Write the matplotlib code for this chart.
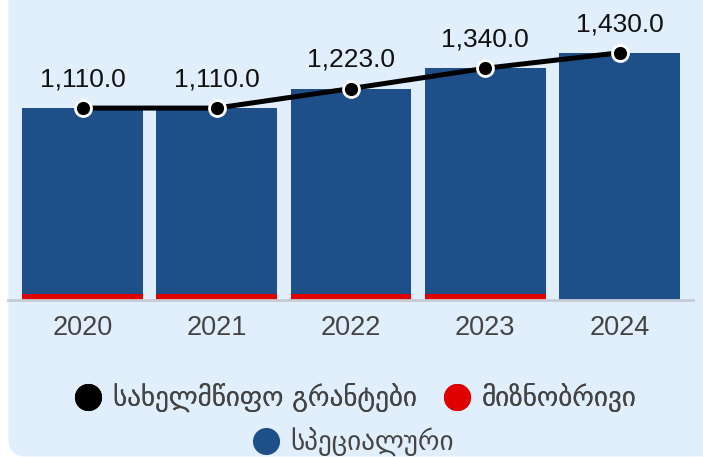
import matplotlib
matplotlib.use('Agg')
import matplotlib.pyplot as plt
from matplotlib.patches import FancyBboxPatch
from matplotlib.lines import Line2D

years = ['2020', '2021', '2022', '2023', '2024']
state_grants = [1110.0, 1110.0, 1223.0, 1340.0, 1430.0]
targeted = [35, 35, 35, 35, 0]
special = [1075, 1075, 1188, 1305, 1430]

labels = ['სახელმწიფო გრანტები', 'მიზნობრივი', 'სპეციალური']
black = '#000000'
red = '#e00000'
blue = '#1f4f89'
bg = '#e1effc'

W, H = 703, 457
fig = plt.figure(figsize=(W / 100, H / 100), dpi=100, facecolor='white')

# rounded card behind everything
bg_ax = fig.add_axes([0, 0, 1, 1], zorder=0)
bg_ax.set_xlim(0, W)
bg_ax.set_ylim(H, 0)
bg_ax.axis('off')
bg_ax.add_patch(FancyBboxPatch((8.5, -40), 740, 496.5,
                               boxstyle='round,pad=0,rounding_size=17',
                               facecolor=bg, edgecolor='none'))

ax = fig.add_axes([8 / W, (H - 300) / H, 685 / W, 300 / H], zorder=1)
ax.patch.set_visible(False)
x = list(range(len(years)))

ax.bar(x, targeted, width=0.9, color=red, zorder=2)
ax.bar(x, special, width=0.9, bottom=targeted, color=blue, zorder=2)
ax.plot(x, state_grants, color=black, lw=3.6, marker='o', ms=11.5,
        mfc=black, mec='white', mew=2, zorder=3, solid_capstyle='butt')

for xi, v in zip(x, state_grants):
    ax.annotate(f'{v:,.1f}', (xi, v), xytext=(0, 12), textcoords='offset points',
                ha='center', va='bottom', fontsize=19, family='Liberation Sans',
                color='#111111')

ax.set_xlim(-0.555, 4.547)
ax.set_ylim(0, 1735)
ax.set_xticks(x)
ax.set_xticklabels(years, fontsize=19.5, family='Liberation Sans', color='#444444')
ax.tick_params(axis='x', length=0, pad=11)
ax.set_yticks([])
for s in ['top', 'right', 'left']:
    ax.spines[s].set_visible(False)
ax.spines['bottom'].set_color('#c5cbd3')
ax.spines['bottom'].set_linewidth(2)

def handle(c):
    return Line2D([], [], marker='o', ls='none', ms=18.5, mfc=c, mec=c)

legend_font = {'family': ['DejaVu Sans'], 'size': 19.5}
leg1 = fig.legend([handle(black), handle(red)], labels[:2], ncol=2,
                  loc='center', bbox_to_anchor=(0.5 + 4 / W, 1 - 398 / H),
                  frameon=False, prop=legend_font, labelcolor='#444444',
                  handletextpad=0.4, columnspacing=1.0, handlelength=1.0)
leg2 = fig.legend([handle(blue)], labels[2:], loc='center',
                  bbox_to_anchor=(0.5 + 2 / W, 1 - 442 / H),
                  frameon=False, prop=legend_font, labelcolor='#444444',
                  handletextpad=0.4, handlelength=1.0)
fig.add_artist(leg1)

fig.savefig('out.png', dpi=100, facecolor='white')
